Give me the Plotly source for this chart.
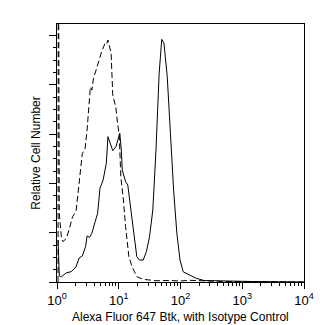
import plotly.graph_objects as go

# Btk (solid) histogram: fluorescence intensity vs relative count
btk_x = [1.04, 1.09, 1.18, 1.42, 1.69, 2.03, 2.28, 2.57, 2.90, 3.07, 3.38, 3.67, 4.15, 4.55,
         4.96, 5.58, 6.29, 6.68, 8.00, 9.00, 10.4, 11.0, 11.4, 12.9, 14.0, 15.4, 17.4, 19.6,
         21.6, 24.9, 28.0, 31.5, 35.6, 40.1, 45.1, 49.7, 54.0, 61.0, 68.7, 77.3, 87.3, 98.2,
         110.6, 140.6, 178.7, 240.4, 493, 1445, 10000]
btk_y = [42.6, 6.1, 5.4, 9.4, 10.4, 15.2, 24.3, 26.4, 35.8, 46.7, 45.3, 49.4, 61.2, 69.7,
         95.0, 103.4, 120.4, 147.4, 133.2, 137.2, 150.8, 133.9, 113.6, 101.7, 98.4, 76.4, 49.4, 25.7,
         22.3, 22.3, 30.7, 45.9, 73.0, 133.9, 211.7, 246.1, 242.1, 208.2, 150.8, 93.3, 49.4, 22.3,
         10.4, 7.1, 3.8, 1.5, 1.0, 0.5, 0.0]

# Isotype control (dashed) histogram
iso_x = [1.04, 1.05, 1.09, 1.18, 1.25, 1.42, 1.59, 1.79, 2.03, 2.15, 2.28, 2.57, 2.83, 3.07,
         3.18, 3.32, 3.47, 3.67, 3.90, 4.30, 4.67, 5.26, 5.94, 6.29, 6.68, 6.92, 7.52, 8.00,
         9.00, 9.57, 10.2, 10.8, 11.9, 12.9, 14.6, 16.4, 19.6, 24.9, 40.1, 68.7, 98.2, 140.6,
         240.4, 493, 10000]
iso_y = [0.0, 400.0, 70.0, 44.3, 40.9, 44.3, 54.5, 66.2, 71.3, 83.2, 100.1, 130.5, 133.9, 154.2,
         166.3, 189.7, 197.8, 194.7, 206.9, 215.0, 223.4, 233.3, 241.4, 240.4, 245.4, 240.4, 232.0, 189.7,
         176.5, 161.0, 149.1, 106.8, 83.2, 56.1, 25.7, 15.5, 5.4, 2.7, 1.3, 1.5, 1.0, 1.7,
         1.0, 0.5, 0.0]

x_major = [1, 10, 100, 1000, 10000]
x_labels = ["10<sup>0</sup>", "10<sup>1</sup>", "10<sup>2</sup>", "10<sup>3</sup>", "10<sup>4</sup>"]
x_minor = [m * 10 ** k for k in range(4) for m in range(2, 10)]

x_title = "Alexa Fluor 647 Btk, with Isotype Control"
y_title = "Relative Cell Number"

fig = go.Figure()
fig.add_trace(go.Scatter(x=iso_x, y=iso_y, mode="lines",
                         line=dict(color="black", width=1, dash="6px,3px"),
                         showlegend=False, hoverinfo="skip"))
fig.add_trace(go.Scatter(x=btk_x, y=btk_y, mode="lines",
                         line=dict(color="black", width=1),
                         showlegend=False, hoverinfo="skip"))

fig.update_layout(
    width=325, height=325,
    margin=dict(l=57, r=11, t=24, b=43),
    paper_bgcolor="white", plot_bgcolor="white",
    font=dict(family="Liberation Sans, Arial, sans-serif", size=12, color="black"),
    xaxis=dict(type="log", range=[0, 4], showgrid=False, zeroline=False,
               showline=True, linecolor="black", linewidth=1, mirror=True,
               tickmode="array", tickvals=x_major, ticktext=x_labels,
               ticks="outside", ticklen=6, tickcolor="black", tickwidth=1,
               tickfont=dict(size=13),
               minor=dict(tickmode="array", tickvals=x_minor, ticks="outside",
                          ticklen=3, tickcolor="black", tickwidth=1, showgrid=False)),
    yaxis=dict(range=[0, 261.7], showgrid=False, zeroline=False,
               showline=True, linecolor="black", linewidth=1, mirror=True,
               tickmode="linear", tick0=0, dtick=50, showticklabels=False,
               ticks="outside", ticklen=7, tickcolor="black", tickwidth=1,
               minor=dict(tick0=0, dtick=12.5, ticks="outside", ticklen=3,
                          tickcolor="black", tickwidth=1, showgrid=False)),
    annotations=[
        dict(text=x_title, xref="paper", yref="paper", x=0.5, y=-0.100,
             xanchor="center", yanchor="top", showarrow=False, font=dict(size=12)),
        dict(text=y_title, xref="paper", yref="paper", x=-0.05, y=0.5,
             xanchor="right", yanchor="middle", textangle=-90, showarrow=False,
             font=dict(size=12)),
    ],
)

fig.write_html("out.html")
